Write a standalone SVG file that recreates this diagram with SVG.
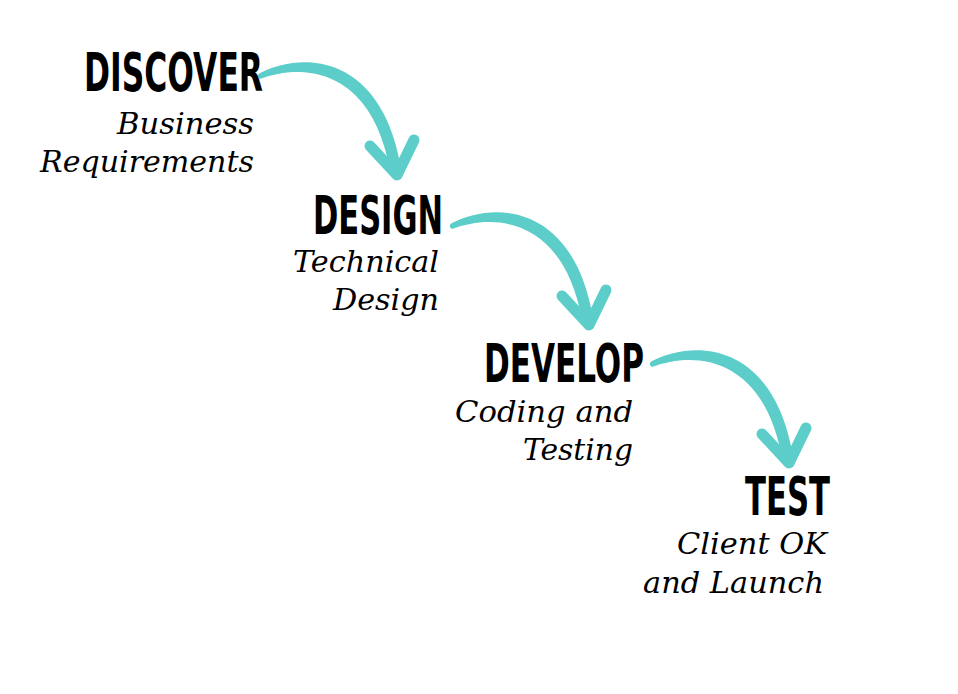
<svg xmlns="http://www.w3.org/2000/svg" xmlns:xlink="http://www.w3.org/1999/xlink" width="958" height="694" viewBox="0 0 958 694">
<style>
.h{font-family:"Liberation Sans Narrow","DejaVu Sans Condensed","Liberation Sans",sans-serif;font-weight:bold;font-size:54px;fill:#000}
.s{font-family:"DejaVu Serif","Liberation Serif",serif;font-style:italic;font-size:30px;fill:#000;text-anchor:end}
.a{fill:#5ccdc9}
.ah{fill:none;stroke:#5ccdc9;stroke-width:11;stroke-linecap:round;stroke-linejoin:round}
</style>
<defs>
<g id="arrow">
<path class="a" d="M0,-1 C45,-24 122,-18 141,94 L130,96 C112,-4 45,-12 0,5 C-3,3 -3,1 0,-1 Z"/>
<path class="ah" d="M110,72 L137,101 L154,66"/>
</g>
</defs>
<rect width="958" height="694" fill="#fff"/>
<g id="connectors">
<use xlink:href="#arrow" x="260" y="74"/>
<use xlink:href="#arrow" x="452" y="224"/>
<use xlink:href="#arrow" x="652" y="362"/>
</g>
<g id="discover">
<text class="h" x="84" y="91" textLength="179" lengthAdjust="spacingAndGlyphs">DISCOVER</text>
<text class="s" x="254" y="134" textLength="137" lengthAdjust="spacingAndGlyphs">Business</text>
<text class="s" x="254" y="172" textLength="214" lengthAdjust="spacingAndGlyphs">Requirements</text>
</g>
<g id="design">
<text class="h" x="313" y="234" textLength="130" lengthAdjust="spacingAndGlyphs">DESIGN</text>
<text class="s" x="439" y="272" textLength="146" lengthAdjust="spacingAndGlyphs">Technical</text>
<text class="s" x="439" y="310" textLength="106" lengthAdjust="spacingAndGlyphs">Design</text>
</g>
<g id="develop">
<text class="h" x="484" y="382" textLength="160" lengthAdjust="spacingAndGlyphs">DEVELOP</text>
<text class="s" x="633" y="422" textLength="178" lengthAdjust="spacingAndGlyphs">Coding and</text>
<text class="s" x="633" y="460" textLength="110" lengthAdjust="spacingAndGlyphs">Testing</text>
</g>
<g id="test">
<text class="h" x="745" y="515" textLength="85" lengthAdjust="spacingAndGlyphs">TEST</text>
<text class="s" x="827" y="554" textLength="150" lengthAdjust="spacingAndGlyphs">Client OK</text>
<text class="s" x="824" y="593" textLength="181" lengthAdjust="spacingAndGlyphs">and Launch</text>
</g>
</svg>
